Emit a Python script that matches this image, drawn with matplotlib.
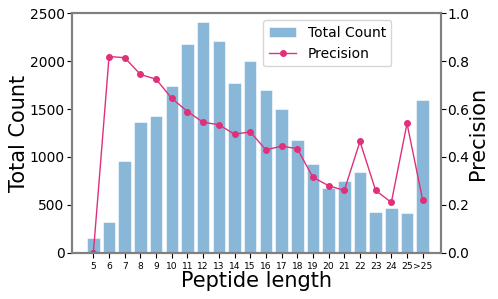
import matplotlib.pyplot as plt
import numpy as np

# data
lengths = ["5", "6", "7", "8", "9", "10", "11", "12", "13", "14", "15",
           "16", "17", "18", "19", "20", "21", "22", "23", "24", "25", ">25"]
total_count = [150, 320, 960, 1370, 1430, 1745, 2180, 2410, 2210, 1775, 2000,
               1700, 1500, 1180, 930, 680, 750, 840, 430, 470, 410, 1600]
precision = [0.0, 0.82, 0.815, 0.745, 0.725, 0.645, 0.59, 0.545, 0.535, 0.495, 0.505,
             0.43, 0.445, 0.435, 0.315, 0.28, 0.26, 0.465, 0.26, 0.21, 0.54, 0.22]

x = np.arange(len(lengths))

fig, ax = plt.subplots(figsize=(4.98, 2.99), dpi=100)
ax2 = ax.twinx()

bars = ax.bar(x, total_count, width=0.8, color="#1f77b4", alpha=0.53,
              edgecolor="white", linewidth=0.8, label="Total Count")
line, = ax2.plot(x, precision, color="#e0307a", marker="o", markersize=4,
                 linewidth=1.0, label="Precision")

ax.set_xlim(-1.35, 22.15)
ax.set_ylim(0, 2500)
ax2.set_ylim(0, 1.0)
ax.set_xticks(x)
ax.set_xticklabels(lengths, fontsize=6.6)
ax.tick_params(axis="y", labelsize=10, pad=2)
ax2.tick_params(axis="y", labelsize=10, pad=1)
ax.set_yticks([0, 500, 1000, 1500, 2000, 2500])
ax2.set_yticks([0, 0.2, 0.4, 0.6, 0.8, 1.0])

ax.set_xlabel("Peptide length", fontsize=15, labelpad=0)
ax.set_ylabel("Total Count", fontsize=15, labelpad=0)
ax2.set_ylabel("Precision", fontsize=15, labelpad=-1)

for a in (ax, ax2):
    for s in a.spines.values():
        s.set_color("gray")
        s.set_linewidth(1.5)

ax.legend([bars, line], ["Total Count", "Precision"], loc="upper right",
          bbox_to_anchor=(0.885, 1.0), fontsize=10)

plt.subplots_adjust(left=0.145, right=0.885, top=0.955, bottom=0.155)
plt.savefig("out.png")
